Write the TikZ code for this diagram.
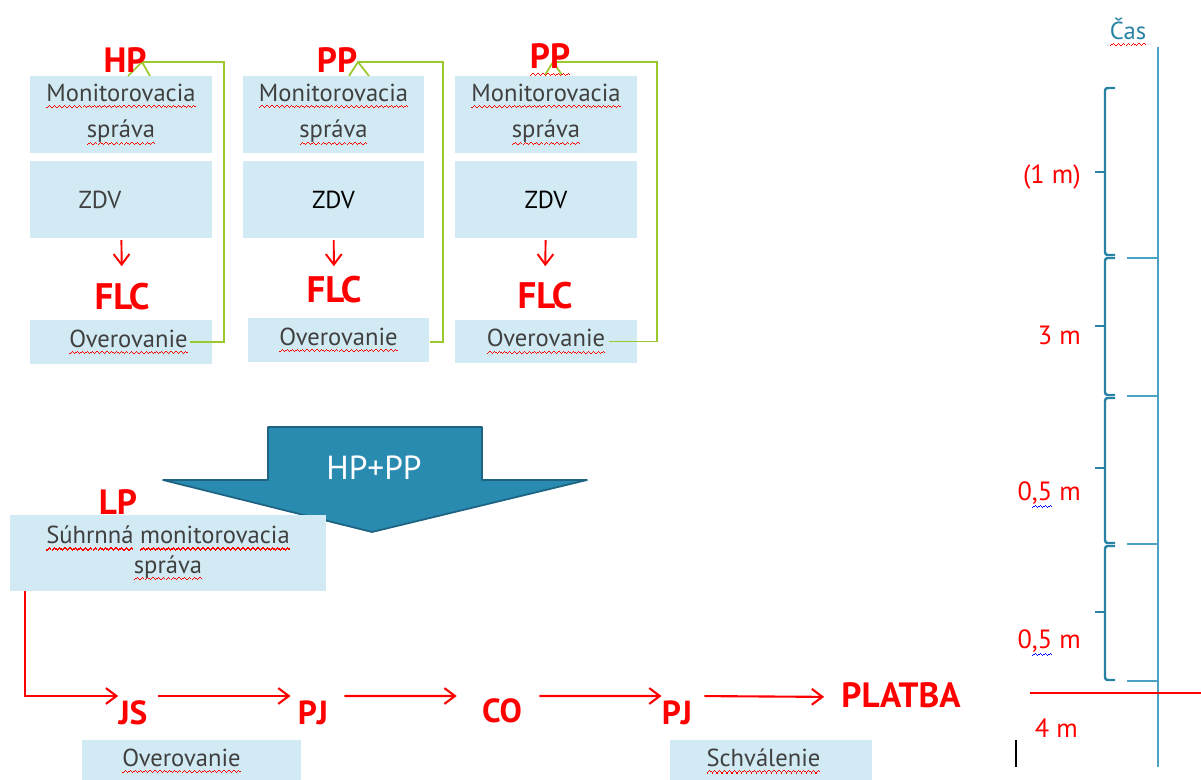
\documentclass[tikz,border=0pt]{standalone}
\usepackage{fontspec}
\setmainfont{PT Sans}
\usepackage{tikz}
\usetikzlibrary{arrows.meta}

\definecolor{boxblue}{RGB}{210,234,243}
\definecolor{loopgreen}{RGB}{155,200,45}
\definecolor{arrowteal}{RGB}{42,139,176}
\definecolor{arrowedge}{RGB}{30,100,130}
\definecolor{axisblue}{RGB}{75,163,195}
\definecolor{bracketblue}{RGB}{40,130,165}
\definecolor{textgray}{RGB}{64,64,64}

% wavy underline built from small rules
\newcommand\wavebit{\rule[-4.2pt]{0.7pt}{0.7pt}\rule[-3.6pt]{0.7pt}{0.7pt}\rule[-3.0pt]{0.7pt}{0.7pt}\rule[-3.6pt]{0.7pt}{0.7pt}}
\newcommand\squiggle[2]{\leavevmode\setbox0\hbox{#2}\rlap{\hbox to \wd0{\color{#1}\xleaders\hbox{\wavebit}\hfill}}\box0\relax}
\newcommand\spell[1]{\squiggle{red}{#1}}
\newcommand\gram[1]{\squiggle{blue}{#1}}

\begin{document}
\begin{tikzpicture}[x=0.02cm, y=-0.02cm,
	>={Straight Barb[length=6pt,width=9pt]},
	box/.style={fill=boxblue, text=textgray, inner sep=0pt, align=center, font=\fontsize{14}{21}\selectfont},
	tall/.style={box, minimum width=3.64cm, minimum height=1.54cm},
	low/.style={box, minimum width=3.64cm, minimum height=0.88cm},
	tag/.style={text=red, inner sep=0pt, font=\fontsize{20}{24}\selectfont\bfseries},
	stage/.style={text=red, inner sep=0pt, font=\fontsize{19}{22}\selectfont\bfseries},
	tlabel/.style={text=red, anchor=east, inner sep=0pt, font=\fontsize{15}{18}\selectfont},
	flow/.style={->, red, line width=1.2pt},
	fb/.style={draw=loopgreen, line width=1pt},
	timeaxis/.style={draw=axisblue, line width=0.7pt},
	brk/.style={draw=bracketblue, line width=1.4pt, rounded corners=1.5pt}]

	\useasboundingbox (0,0) rectangle (1201,780);

	% three partner blocks
	\node[tall] (m1) at (121,114.5)   {\spell{Monitorovacia}\\\spell{správa}};
	\node[tall] (z1) at (121,199.5)   {ZDV\hspace*{0.84cm}};
	\node[low]  (o1) at (121,342)     {\hspace*{0.3cm}\spell{Overovanie}};

	\node[tall] (m2) at (333.5,114.5) {\spell{Monitorovacia}\\\spell{správa}};
	\node[tall] (z2) at (333.5,199.5) {\color{black}ZDV};
	\node[low]  (o2) at (338.5,340)   {\spell{Overovanie}};

	\node[tall] (m3) at (546,114.5)   {\spell{Monitorovacia}\\\spell{správa}};
	\node[tall] (z3) at (546,199.5)   {\color{black}ZDV};
	\node[low]  (o3) at (546,341.5)   {\spell{Overovanie}};

	% green loops back to the partner
	\coordinate (a1) at (142,62);
	\coordinate (a2) at (358,62);
	\coordinate (a3) at (553,62);
	\draw[fb] ([xshift=-0.44cm]o1.east) -| (224,62) -- (a1);
	\draw[fb] (128,76) -- (a1) -- (150,76);
	\draw[fb] ([yshift=-0.04cm]o2.east) -| (443,62) -- (a2);
	\draw[fb] (349,76) -- (a2) -- (369,76);
	\draw[fb] ([xshift=-0.56cm]o3.east) -| (657,62) -- (a3);
	\draw[fb] (545,75) -- (a3) -- (562,75);

	\node[tag] (hp)   at (125,60)  {HP};
	\node[tag] (pp1)  at (337,60)  {PP};
	\node[tag] (pp2)  at (550,60)  {\spell{PP}};
	\node[tag, font=\fontsize{21}{24}\selectfont\bfseries] (flc1) at (122,297) {FLC};
	\node[tag, font=\fontsize{21}{24}\selectfont\bfseries] (flc2) at (334,290) {FLC};
	\node[tag, font=\fontsize{21}{24}\selectfont\bfseries] (flc3) at (545,296) {FLC};

	\path[->, red, line width=1.1pt] (z1) edge [shorten <=1pt, shorten >=0.34cm] (flc1);
	\path[->, red, line width=1.1pt] (z2) edge [shorten <=1pt, shorten >=0.2cm] (flc2);
	\path[->, red, line width=1.1pt] (z3) edge [shorten <=1pt, shorten >=0.32cm] (flc3);

	% merge arrow
	\draw[fill=arrowteal, draw=arrowedge, line width=1pt, line join=round]
		(268,427) -- (482,427) -- (482,480) -- (587,480) -- (372,532) -- (163,480) -- (268,480) -- cycle;
	\node[text=white, font=\fontsize{19}{22}\selectfont] (sum) at (374,468) {HP+PP};

	% lead partner
	\node[box, minimum width=6.32cm, minimum height=1.52cm, font=\fontsize{14}{17}\selectfont] (sm) at (168,553)
		{\spell{Súhrnná} \spell{monitorovacia}\\\spell{správa}};
	\node[tag] (lp) at (118,502) {LP};

	\node[stage] (js)     at (133,713) {JS};
	\node[stage] (pj1)    at (313,713) {PJ};
	\node[stage] (co)     at (502,711) {CO};
	\node[stage] (pj2)    at (677,713) {PJ};
	\node[tag] (platba) at (901,695) {PLATBA};

	\draw[flow] ([xshift=0.3cm]sm.south west) |- ([yshift=0.34cm]js.west);
	\path[flow] ([yshift=0.34cm]js.east)  edge [shorten <=0.2cm, shorten >=0.14cm] ([yshift=0.34cm]pj1.west);
	\path[flow] ([yshift=0.34cm]pj1.east) edge [shorten <=0.32cm, shorten >=0.5cm] ([yshift=0.30cm]co.west);
	\path[flow] ([yshift=0.30cm]co.east)  edge [shorten <=0.34cm] ([yshift=0.34cm]pj2.west);
	\path[flow] ([yshift=0.34cm]pj2.east) edge [shorten <=0.24cm, shorten >=0.34cm] ([yshift=-0.04cm]platba.west);

	\node[box, minimum width=4.38cm, minimum height=0.84cm] (ov) at (191.5,761) {\spell{Overovanie}\hspace*{0.4cm}};
	\node[box, minimum width=4.04cm, minimum height=0.84cm] (sch) at (771,761) {\spell{Schválenie}\hspace*{0.3cm}};

	% time axis
	\node[text=bracketblue, inner sep=0pt, font=\fontsize{14}{17}\selectfont] (cas) at (1128,32) {\spell{Čas}};
	\coordinate (ttop) at (1158,47);
	\coordinate (tbot) at (1158,767);
	\draw[timeaxis] (ttop) -- (tbot);
	\foreach \y in {258,396,544,681}
		\draw[timeaxis] (1127,\y) -- (1158,\y);
	\foreach \a/\m/\b in {88/172/255, 258/326/395, 398/468/543, 546/612/680} {
		\draw[brk] (1115,\a) -- (1105,\a) -- (1105,\b) -- (1115,\b);
		\draw[brk] (1105,\m) -- (1095,\m);
	}
	\draw[red, line width=0.6pt] (1030,693) -- (1201,693);
	\draw[black, line width=0.7pt] (1016,740) -- (1016,767);

	\node[tlabel] (t1) at (1081,177) {(1 m)};
	\node[tlabel] (t2) at (1081,335) {3 m};
	\node[tlabel] (t3) at (1081,495) {0\gram{,5}~m};
	\node[tlabel] (t4) at (1081,643) {0\gram{,5}~m};
	\node[tlabel] (t5) at (1078,728) {4 m};
\end{tikzpicture}
\end{document}
